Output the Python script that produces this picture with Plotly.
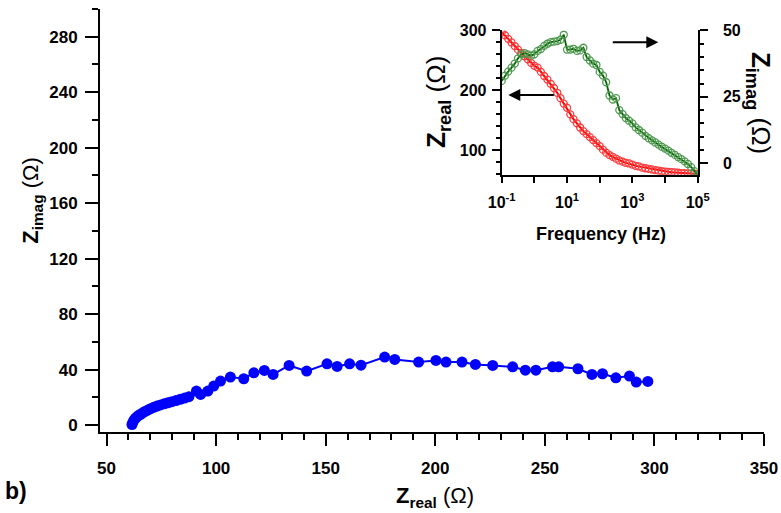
import plotly.graph_objects as go

# ---- Nyquist data (main panel) ----
zreal_nyq = [61.6, 62.0, 62.5, 63.1, 63.8, 64.6, 65.5, 66.5, 67.6, 68.8, 70.1, 71.5, 73.0, 74.6,
             76.3, 78.0, 79.8, 81.7, 83.6, 85.6, 87.6, 91.0, 92.9, 96.2, 98.9, 102.0, 106.5,
             112.6, 117.2, 122.0, 126.0, 133.3, 141.3, 150.6, 155.2, 160.9, 166.1, 176.9,
             181.5, 192.4, 200.3, 204.9, 212.2, 218.3, 226.2, 235.3, 241.1, 245.9, 253.5,
             256.3, 265.1, 271.5, 276.3, 282.4, 288.6, 291.7, 297.0]
zimag_nyq = [0.4, 2.0, 3.5, 4.8, 5.9, 6.9, 7.8, 8.8, 9.8, 10.8, 11.8, 12.8, 13.7, 14.5,
             15.3, 16.1, 16.9, 17.7, 18.6, 19.5, 20.5, 24.5, 22.1, 24.5, 28.1, 31.7, 34.6,
             33.4, 37.7, 39.4, 36.5, 43.0, 38.9, 44.2, 42.3, 44.2, 43.2, 49.0,
             47.3, 45.4, 46.6, 45.4, 45.4, 43.7, 43.0, 42.0, 39.6, 39.6, 42.0,
             42.0, 40.6, 36.5, 37.0, 34.1, 35.3, 31.0, 31.5]

# ---- Bode data (inset) ----
freq_hz = [0.1, 0.126, 0.158, 0.2, 0.251, 0.316, 0.398, 0.501, 0.631, 0.794,
           1, 1.26, 1.58, 2, 2.51, 3.16, 3.98, 5.01, 6.31, 7.94,
           10, 12.6, 15.8, 20, 25.1, 31.6, 39.8, 50.1, 63.1, 79.4,
           100, 126, 158, 200, 251, 316, 398, 501, 631, 794,
           1000, 1260, 1580, 2000, 2510, 3160, 3980, 5010, 6310, 7940,
           10000, 12600, 15800, 20000, 25100, 31600, 39800, 50100, 63100, 79400,
           100000]
zreal_bode = [297, 292, 286, 280, 274, 268, 262, 257, 252, 246,
              241, 238, 231, 224, 218, 211, 204, 196, 187, 178,
              171, 160, 152, 145, 138, 132, 127, 122, 117, 112,
              107, 101, 96, 92, 89, 86, 83, 81, 79, 78,
              76, 74, 73, 71, 70, 69, 68, 67, 66, 65,
              64.5, 64, 63.5, 63, 62.5, 62, 61.8, 61.5, 61.2, 61,
              60.5]
zimag_bode = [31, 33, 34.5, 36, 37.5, 39.5, 41, 41.5, 41, 40.5,
              41, 42.3, 43, 44.2, 45, 45.6, 45.8, 46, 46.5, 48.4,
              42.8, 42.8, 43.1, 42.3, 42.5, 43.5, 40, 38.7, 37.5, 37,
              34.4, 33, 30.5, 25.5, 24, 24.5, 20, 18.5, 17, 16,
              15, 13.5, 12.5, 11.5, 10.3, 9.4, 8.6, 7.8, 7, 6.2,
              5.5, 4.7, 3.9, 3.1, 2.3, 1.5, 0.7, -0.3, -1.5, -3,
              -4.4]

freq_ticks = [0.1, 1, 10, 100, 1000, 10000, 100000]
freq_ticktext = ["10<sup>-1</sup>", "", "10<sup>1</sup>", "", "10<sup>3</sup>", "", "10<sup>5</sup>"]

FONT = "Liberation Sans, Arial, sans-serif"
W, H = 781, 513
L, R, T, B = 100, 17, 9, 80.6
PW, PH = W - L - R, H - T - B


def fx(x):
    return (x - L) / PW


def fy(y):
    return (H - B - y) / PH


fig = go.Figure()

fig.add_trace(go.Scatter(
    x=zreal_nyq, y=zimag_nyq, mode="lines+markers",
    line=dict(color="#0000ff", width=2),
    marker=dict(color="#0000ff", size=11, symbol="circle"),
    xaxis="x", yaxis="y", showlegend=False,
))

fig.add_trace(go.Scatter(
    x=freq_hz, y=zreal_bode, mode="lines+markers",
    line=dict(color="#ff0000", width=2),
    marker=dict(symbol="circle-open", size=7, color="#ff3c3c", line=dict(width=1.3)),
    xaxis="x2", yaxis="y2", showlegend=False,
))
fig.add_trace(go.Scatter(
    x=freq_hz, y=zimag_bode, mode="lines+markers",
    line=dict(color="#006400", width=1.8),
    marker=dict(symbol="circle-open", size=7, color="#4f994f", line=dict(width=1.3)),
    xaxis="x2", yaxis="y3", showlegend=False,
))

tickfont = dict(family=FONT, size=17, color="black", weight="bold")
inset_tickfont = dict(family=FONT, size=16, color="black", weight="bold")
common = dict(showline=True, linecolor="black", linewidth=2, showgrid=False,
              zeroline=False, ticks="outside", tickcolor="black", tickwidth=2,
              automargin=False)

inset_x = [fx(501.7), fx(697.7)]
inset_y = [fy(175), fy(30.5)]

fig.update_layout(
    width=W, height=H,
    margin=dict(l=L, r=R, t=T, b=B),
    paper_bgcolor="white", plot_bgcolor="rgba(0,0,0,0)",
    font=dict(family=FONT, color="black"),
    xaxis=dict(**common, range=[47, 350], tick0=50, dtick=50, ticklen=12,
               tickfont=tickfont, ticklabelstandoff=8,
               minor=dict(dtick=10, tick0=50, ticklen=6, tickwidth=2,
                          ticks="outside", tickcolor="black"),
               anchor="y", domain=[0, 1]),
    yaxis=dict(**common, range=[-5, 300], tick0=0, dtick=40, ticklen=13,
               tickfont=tickfont, ticklabelstandoff=4,
               minor=dict(dtick=20, tick0=0, ticklen=6, tickwidth=2,
                          ticks="outside", tickcolor="black"),
               anchor="x", domain=[0, 1]),
    xaxis2=dict(**common, type="log", range=[-1, 5], tickvals=freq_ticks,
                ticktext=freq_ticktext, ticklen=6, tickfont=inset_tickfont,
                ticklabelstandoff=6, anchor="y2", domain=inset_x),
    yaxis2=dict(**common, range=[59, 300], tickvals=[100, 200, 300], ticklen=8,
                tickfont=inset_tickfont, ticklabelstandoff=2,
                minor=dict(dtick=20, tick0=0, ticklen=4, tickwidth=2,
                           ticks="outside", tickcolor="black"),
                anchor="x2", domain=inset_y),
    yaxis3=dict(**common, range=[-4.4, 50], tickvals=[0, 25, 50], ticklen=8,
                tickfont=inset_tickfont, ticklabelstandoff=12,
                minor=dict(dtick=5, tick0=0, ticklen=4, tickwidth=2,
                           ticks="outside", tickcolor="black"),
                anchor="x2", overlaying="y2", side="right"),
)

ann = []
title_font = dict(family=FONT, size=22, color="black")
# main axis titles
ann.append(dict(text="<b>Z</b><sub><b>real</b></sub> (Ω)", x=fx(435), y=fy(497),
                xref="paper", yref="paper", showarrow=False,
                xanchor="center", yanchor="middle", font=title_font))
ann.append(dict(text="<b>Z</b><sub><b>imag</b></sub> (Ω)", x=fx(32), y=fy(201),
                xref="paper", yref="paper", showarrow=False, textangle=-90,
                xanchor="center", yanchor="middle", font=title_font))
ann.append(dict(text="<b>b)</b>", x=fx(3), y=fy(491), xref="paper", yref="paper",
                showarrow=False, xanchor="left", yanchor="middle",
                font=dict(family=FONT, size=23, color="black")))
# inset axis titles
inset_title_font = dict(family=FONT, size=26, color="black")
ann.append(dict(text="<b>Z</b><sub><b>real</b></sub> (Ω)", x=fx(438), y=fy(102),
                xref="paper", yref="paper", showarrow=False, textangle=-90,
                xanchor="center", yanchor="middle", font=inset_title_font))
ann.append(dict(text="<b>Z</b><sub><b>imag</b></sub> (Ω)", x=fx(759), y=fy(103),
                xref="paper", yref="paper", showarrow=False, textangle=90,
                xanchor="center", yanchor="middle", font=inset_title_font))
ann.append(dict(text="<b>Frequency (Hz)</b>", x=fx(601), y=fy(234),
                xref="paper", yref="paper", showarrow=False,
                xanchor="center", yanchor="middle",
                font=dict(family=FONT, size=18, color="black")))
# arrows pointing to the axis each curve belongs to
ann.append(dict(text="", x=fx(658.3), y=fy(42.3), xref="paper", yref="paper",
                ax=-47, ay=0, axref="pixel", ayref="pixel", showarrow=True,
                arrowhead=2, arrowsize=1.2, arrowwidth=2, arrowcolor="black"))
ann.append(dict(text="", x=fx(508.3), y=fy(95), xref="paper", yref="paper",
                ax=47, ay=0, axref="pixel", ayref="pixel", showarrow=True,
                arrowhead=2, arrowsize=1.2, arrowwidth=2, arrowcolor="black"))
fig.update_layout(annotations=ann)

fig.write_html("out.html")
